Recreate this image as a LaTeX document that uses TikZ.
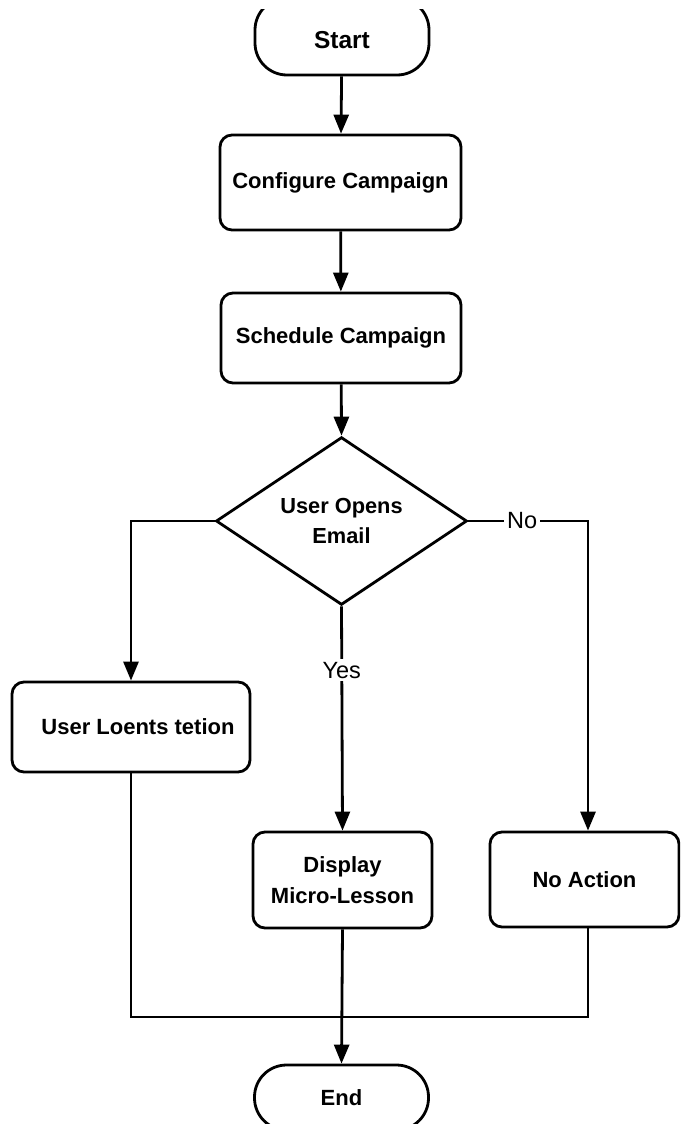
\documentclass[tikz,border=0pt]{standalone}
\usepackage{fontspec}
\setmainfont{Liberation Sans}
\usetikzlibrary{shapes.geometric,arrows.meta}
\begin{document}
\begin{tikzpicture}[x=1pt,y=-1pt,
  line width=2.8pt,
  box/.style={draw,rounded corners=12pt,inner sep=0pt,align=center,
    font=\fontsize{22}{31}\selectfont\bfseries},
  term/.style={draw,rounded corners=32pt,inner sep=0pt,align=center,
    minimum width=174pt,font=\fontsize{24.5}{30}\selectfont\bfseries},
  dec/.style={draw,diamond,inner sep=0pt,align=center,
    minimum width=251pt,minimum height=154pt,font=\fontsize{21.8}{30}\selectfont\bfseries},
  lbl/.style={fill=white,inner sep=3pt,font=\fontsize{23.5}{26}\selectfont},
  arr/.style={-{Triangle[width=15pt,length=19pt]}}]
\useasboundingbox (0,0) rectangle (680,1124);
\clip (0,0) rectangle (680,1124);
\fill[white] (0,0) rectangle (680,1124);
\begin{scope}
\clip (0,10) rectangle (680,1124);
\node[term,minimum height=77pt] (start) at (342,36.5) {\raisebox{-6pt}[12pt][0pt]{Start}};
\end{scope}
\node[box,minimum width=241pt,minimum height=95pt] (conf) at (340.5,182.5) {Configure Campaign};
\node[box,minimum width=240pt,minimum height=90pt] (sched) at (341,338) {Schedule Campaign};
\node[dec] (dec) at (341.5,521) {User Opens\\Email};
\node[box,minimum width=238pt,minimum height=90pt] (user) at (131,727) {\hspace{14pt}User Loents tetion};
\node[box,minimum width=179pt,minimum height=96pt] (disp) at (342.5,880) {Display\\Micro-Lesson};
\node[box,minimum width=189pt,minimum height=95pt] (noact) at (584.5,879.5) {No Action};
\node[term,minimum height=65pt] (end) at (341.5,1097.5) {\fontsize{22}{26}\selectfont End};
\coordinate (jl) at (131,1017);
\coordinate (jr) at (588,1017);
\coordinate (lt) at (131,521);
\coordinate (rt) at (588,521);

\draw[arr] (start) -- (conf);
\draw[arr] (conf) -- (sched);
\draw[arr] (sched) -- (dec.north);
\draw[arr] (dec.west) -- (lt) -- (user.north);
\draw[arr] (dec.south) -- node[lbl,pos=0.285]{Yes} (disp.north);
\draw[arr] (dec.east) -- node[lbl,pos=0.45]{No} (rt) -- (noact.north -| rt);
\draw (user.south) -- (jl) -- (jr) -- (noact.south -| jr);
\draw[arr] (disp.south) -- (end.north);
\end{tikzpicture}
\end{document}
